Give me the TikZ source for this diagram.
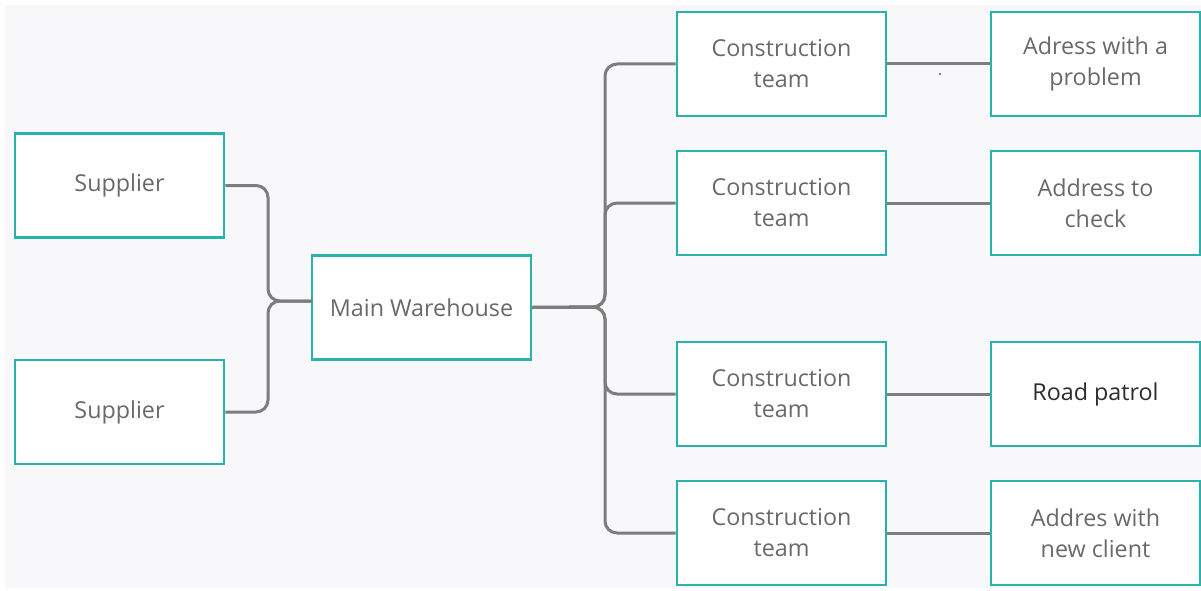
\documentclass[tikz,border=0pt]{standalone}
\usepackage{fontspec}
\setmainfont{Open Sans}
\definecolor{teal2}{RGB}{40,178,172}
\definecolor{linegray}{RGB}{125,125,125}
\definecolor{txtgray}{RGB}{105,105,105}
\definecolor{bggray}{RGB}{248,248,250}
\begin{document}
\begin{tikzpicture}[x=1pt,y=-1pt,
  box/.style={draw=teal2, line width=2.6pt, fill=white, minimum width=209pt, minimum height=104pt,
    inner sep=0pt, align=center, text=txtgray, font=\fontsize{23.3}{31}\selectfont},
  conn/.style={draw=linegray, line width=3pt, rounded corners=12pt}]
\useasboundingbox (0,0) rectangle (1201,591);
\fill[white] (0,0) rectangle (1201,591);
\fill[bggray] (5,5) rectangle (1201,588);
\coordinate (jl) at (268,301);
\coordinate (jlin) at (312,301);
\coordinate (jr) at (605,307);
\node[box] (s1) at (119.5,185.5) {Supplier};
\node[box] (s2) at (119.5,412) {Supplier};
\node[box, minimum width=219pt] (mw) at (421.5,307.5) {Main Warehouse};
\node[box] (c1) at (781.5,64) {Construction\\team};
\node[box] (c2) at (781.5,203) {Construction\\team};
\node[box] (c3) at (781.5,394) {Construction\\team};
\node[box] (c4) at (781.5,533) {Construction\\team};
\node[box] (r1) at (1095.5,64) {Adress with a\\problem};
\node[box] (r2) at (1095.5,203) {Address to\\check};
\node[box, text={rgb,255:red,45;green,45;blue,45}] (r3) at (1095.5,394) {Road patrol};
\node[box] (r4) at (1095.5,533) {Addres with\\new client};
\draw[conn] (s1.east) -| (jl) -- (jlin);
\draw[conn] (s2.east) -| (jl) -- (jlin);
\draw[conn] (mw.east) -- (jr) |- (c1.west);
\draw[conn] (mw.east) -- (jr) |- (c2.west);
\draw[conn] (mw.east) -- (jr) |- (c3.west);
\draw[conn] (mw.east) -- (jr) |- (c4.west);
\draw[conn] (c1.east) -- (r1.west);
\draw[conn] (c2.east) -- (r2.west);
\draw[conn] (c3.east) -- (r3.west);
\draw[conn] (c4.east) -- (r4.west);
\fill[linegray] (940,74) circle (1.4pt);
\end{tikzpicture}
\end{document}
